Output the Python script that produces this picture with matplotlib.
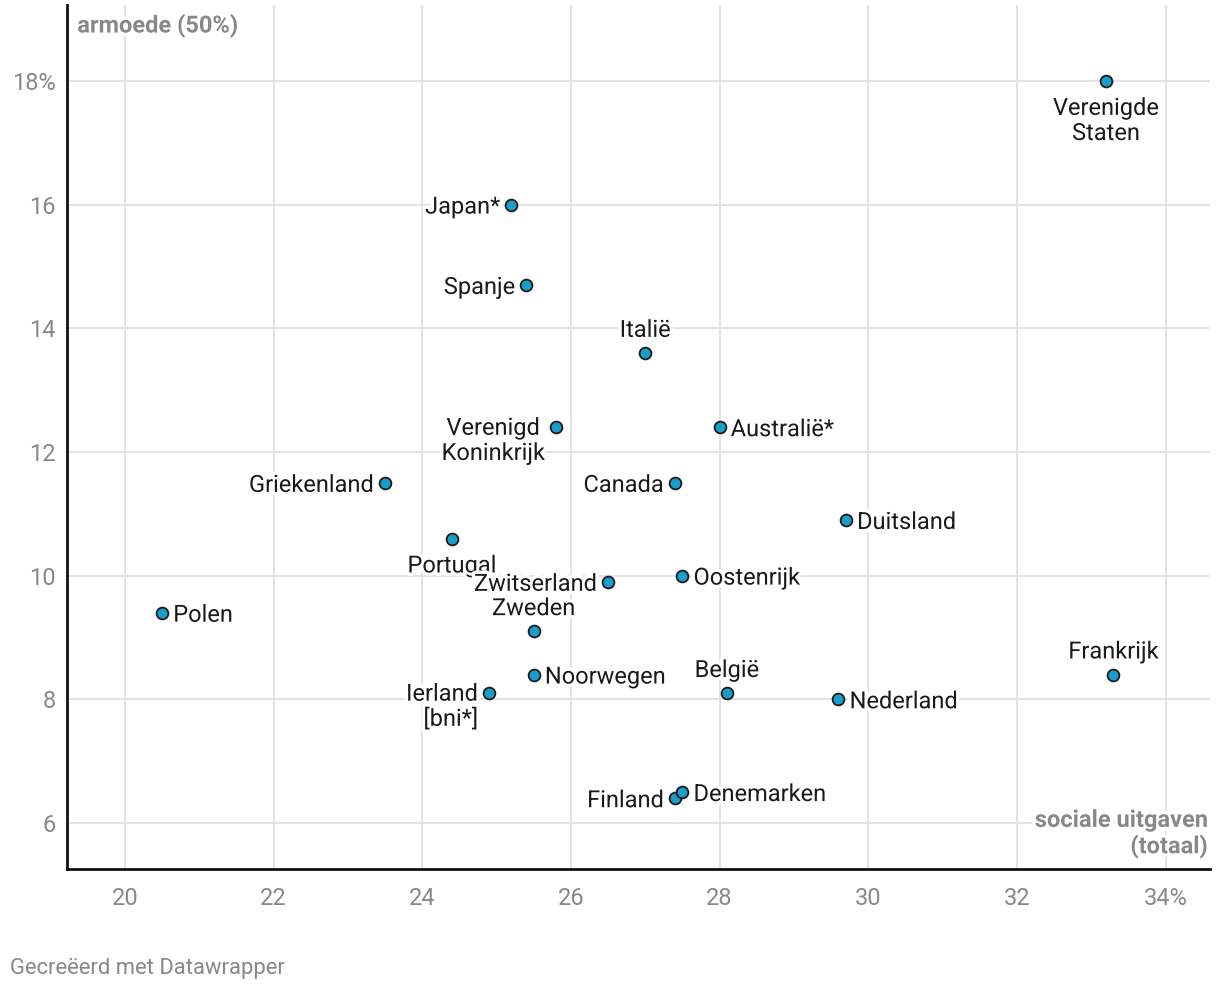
import matplotlib
matplotlib.use("Agg")
import matplotlib.pyplot as plt
from matplotlib import patheffects as pe
from matplotlib.ticker import FuncFormatter

plt.rcParams['font.family'] = ['Roboto', 'DejaVu Sans']

countries = ["Verenigde\nStaten", "Japan*", "Spanje", "Italië", "Verenigd\nKoninkrijk",
             "Australië*", "Griekenland", "Canada", "Duitsland", "Portugal",
             "Zwitserland", "Oostenrijk", "Polen", "Zweden", "Noorwegen", "Frankrijk",
             "België", "Ierland\n[bni*]", "Nederland", "Finland", "Denemarken"]
social = [33.2, 25.2, 25.4, 27.0, 25.8, 28.0, 23.5, 27.4, 29.7, 24.4,
          26.5, 27.5, 20.5, 25.5, 25.5, 33.3, 28.1, 24.9, 29.6, 27.4, 27.5]
poverty = [18.0, 16.0, 14.7, 13.6, 12.4, 12.4, 11.5, 11.5, 10.9, 10.6,
           9.9, 10.0, 9.4, 9.1, 8.4, 8.4, 8.1, 8.1, 8.0, 6.4, 6.5]

# label placement: where the label sits relative to its dot
place = {"Verenigde\nStaten": "below", "Japan*": "left", "Spanje": "left",
         "Italië": "above", "Verenigd\nKoninkrijk": "lefttop", "Australië*": "right",
         "Griekenland": "left", "Canada": "left", "Duitsland": "right",
         "Portugal": "below", "Zwitserland": "left", "Oostenrijk": "right",
         "Polen": "right", "Zweden": "above", "Noorwegen": "right",
         "Frankrijk": "above", "België": "above", "Ierland\n[bni*]": "lefttop",
         "Nederland": "right", "Finland": "left", "Denemarken": "right"}

grey = "#888888"
fig = plt.figure(figsize=(12.2, 10.06), dpi=100)
ax = fig.add_axes([0.0549, 0.1362, 0.937, 0.859])

ax.scatter(social, poverty, s=72, color="#1b9dc9", edgecolor="#1a1a1a",
           linewidth=1.3, zorder=4)

halo = [pe.withStroke(linewidth=5, foreground="white")]
for name, x, y in zip(countries, social, poverty):
    p = place[name]
    if p == "left":
        off, ha, va, ma = (-8, 0), "right", "center_baseline", "right"
    elif p == "right":
        off, ha, va, ma = (8, 0), "left", "center_baseline", "left"
    elif p == "above":
        off, ha, va, ma = (0, 8), "center", "bottom", "center"
    elif p == "below":
        off, ha, va, ma = (0, -11.5), "center", "top", "center"
    else:
        off, ha, va, ma = (-8, 7.5), "right", "top", "center"
    if name.startswith("Ierland"):
        ma = "right"
    ax.annotate(name, (x, y), xytext=off, textcoords="offset points",
                ha=ha, va=va, multialignment=ma, fontsize=17, color="#1a1a1a",
                path_effects=halo, zorder=3, linespacing=1.12)

ax.set_xlim(19.22, 34.6)
ax.set_ylim(5.256, 19.23)
ax.set_xticks([20, 22, 24, 26, 28, 30, 32, 34])
ax.set_yticks([6, 8, 10, 12, 14, 16, 18])
ax.xaxis.set_major_formatter(FuncFormatter(lambda v, _: f"{v:.0f}%" if v == 34 else f"{v:.0f}"))
ax.yaxis.set_major_formatter(FuncFormatter(lambda v, _: f"{v:.0f}%" if v == 18 else f"{v:.0f}"))
ax.tick_params(axis="both", length=0, labelsize=17, labelcolor=grey)
ax.tick_params(axis="x", pad=13)
ax.tick_params(axis="y", pad=8)
ax.grid(True, color="#e3e3e3", linewidth=1.4, zorder=0)
ax.set_axisbelow(True)
for s in ["top", "right"]:
    ax.spines[s].set_visible(False)
for s in ["left", "bottom"]:
    ax.spines[s].set_linewidth(2)
    ax.spines[s].set_color("#111111")

ax.text(0.009, 0.99, "armoede (50%)", transform=ax.transAxes, ha="left", va="top",
        fontsize=17, fontweight="bold", color=grey,
        path_effects=halo)
ax.text(0.998, 0.012, "sociale uitgaven\n(totaal)", transform=ax.transAxes,
        ha="right", va="bottom", multialignment="right", fontsize=17,
        fontweight="bold", color=grey, path_effects=halo, linespacing=1.12)

fig.text(0.008, 0.037, "Gecreëerd met Datawrapper", fontsize=15.8, color=grey,
         ha="left", va="center")

fig.savefig("out.png", dpi=100, facecolor="white")
